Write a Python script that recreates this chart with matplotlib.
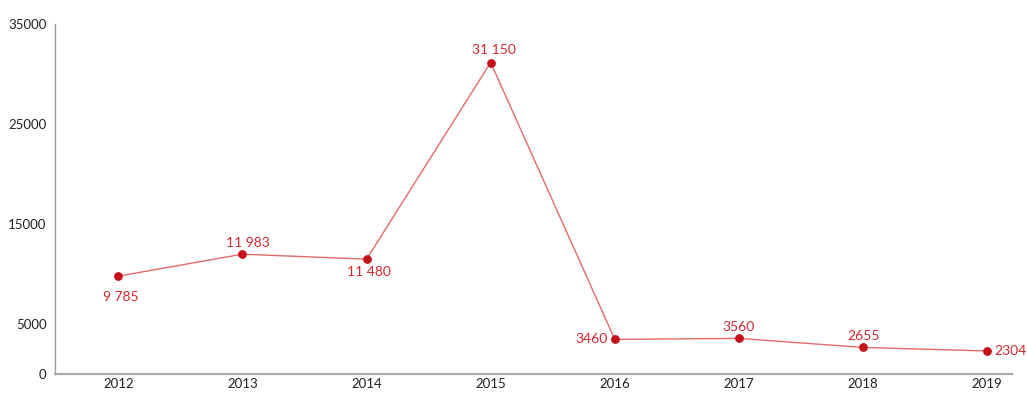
import matplotlib
matplotlib.use("Agg")
import matplotlib.pyplot as plt

years = [2012, 2013, 2014, 2015, 2016, 2017, 2018, 2019]
values = [9785, 11983, 11480, 31150, 3460, 3560, 2655, 2304]
value_labels = ["9 785", "11 983", "11 480", "31 150", "3460", "3560", "2655", "2304"]
yticks = [0, 5000, 15000, 25000, 35000]

# offset (points) and alignment for each value label
label_pos = [
    ((2, -11), "center", "top"),
    ((4, 4), "center", "bottom"),
    ((2, -5), "center", "top"),
    ((2, 5), "center", "bottom"),
    ((-5, 0), "right", "center"),
    ((0, 4), "center", "bottom"),
    ((0, 4), "center", "bottom"),
    ((5, 0), "left", "center"),
]

plt.rcParams["font.family"] = ["Lato", "DejaVu Sans"]

fig = plt.figure(figsize=(10.27, 3.94), dpi=100)
ax = fig.add_axes([55 / 1027, 20 / 394, 957 / 1027, 350 / 394])

ax.plot(years, values, color="#e36a6a", lw=1.0, zorder=2)
ax.scatter(years, values, s=28, color="#c4121c", zorder=3)

for x, v, txt, (off, ha, va) in zip(years, values, value_labels, label_pos):
    ax.annotate(txt, (x, v), xytext=off, textcoords="offset points",
                ha=ha, va=va, color="#d0282e", fontsize=10)

ax.set_xlim(2011.49, 2019.2)
ax.set_ylim(0, 35000)
ax.set_xticks(years)
ax.set_yticks(yticks)
ax.set_yticklabels([str(t) for t in yticks])
ax.tick_params(axis="both", length=0, labelsize=9.5, colors="#222222")
ax.tick_params(axis="x", pad=3)
ax.tick_params(axis="y", pad=6)

for side in ["top", "right"]:
    ax.spines[side].set_visible(False)
ax.spines["left"].set_color("#999999")
ax.spines["left"].set_linewidth(1.0)
ax.spines["bottom"].set_color("#aaaaaa")
ax.spines["bottom"].set_linewidth(1.6)

fig.savefig("out.png", dpi=100)
